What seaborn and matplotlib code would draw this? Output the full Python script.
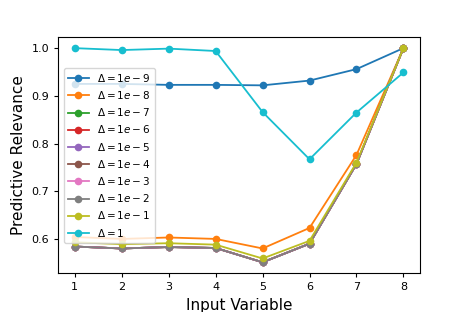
import numpy as np
import pandas as pd
import seaborn as sns
import matplotlib.pyplot as plt

# values
input_vars = [1, 2, 3, 4, 5, 6, 7, 8]
deltas = [r'$\Delta = 1e-9$', r'$\Delta = 1e-8$', r'$\Delta = 1e-7$', r'$\Delta = 1e-6$',
          r'$\Delta = 1e-5$', r'$\Delta = 1e-4$', r'$\Delta = 1e-3$', r'$\Delta = 1e-2$',
          r'$\Delta = 1e-1$', r'$\Delta = 1$']

rel_1e9 = [0.925, 0.925, 0.923, 0.923, 0.922, 0.932, 0.956, 1.000]
rel_1e8 = [0.604, 0.600, 0.603, 0.600, 0.580, 0.623, 0.776, 1.000]
rel_small = [0.584, 0.580, 0.583, 0.581, 0.551, 0.590, 0.757, 1.000]  # 1e-7 .. 1e-2, overlapping
rel_1e1 = [0.593, 0.589, 0.591, 0.588, 0.559, 0.596, 0.760, 1.000]
rel_1 = [1.000, 0.996, 0.999, 0.994, 0.866, 0.767, 0.865, 0.949]

series = [rel_1e9, rel_1e8, rel_small, rel_small, rel_small, rel_small, rel_small,
          rel_small, rel_1e1, rel_1]

rows = []
for name, vals in zip(deltas, series):
    for x, v in zip(input_vars, vals):
        rows.append({'var': x, 'rel': v, 'delta': name})
df = pd.DataFrame(rows)

fig = plt.figure(figsize=(4.67, 3.12), dpi=100)
ax = fig.add_axes([0.125, 0.125, 0.774, 0.755])
sns.lineplot(data=df, x='var', y='rel', hue='delta', hue_order=deltas,
             palette='tab10', marker='o', markersize=5.5, markeredgewidth=0,
             linewidth=1.3, ax=ax)

ax.set_xticks(input_vars)
ax.tick_params(labelsize=8, length=3)
ax.set_xlabel('Input Variable', fontsize=11)
ax.set_ylabel('Predictive Relevance', fontsize=11)
ax.legend(loc='center left', fontsize=7.5, handlelength=2)

plt.savefig('out.png', dpi=100)
